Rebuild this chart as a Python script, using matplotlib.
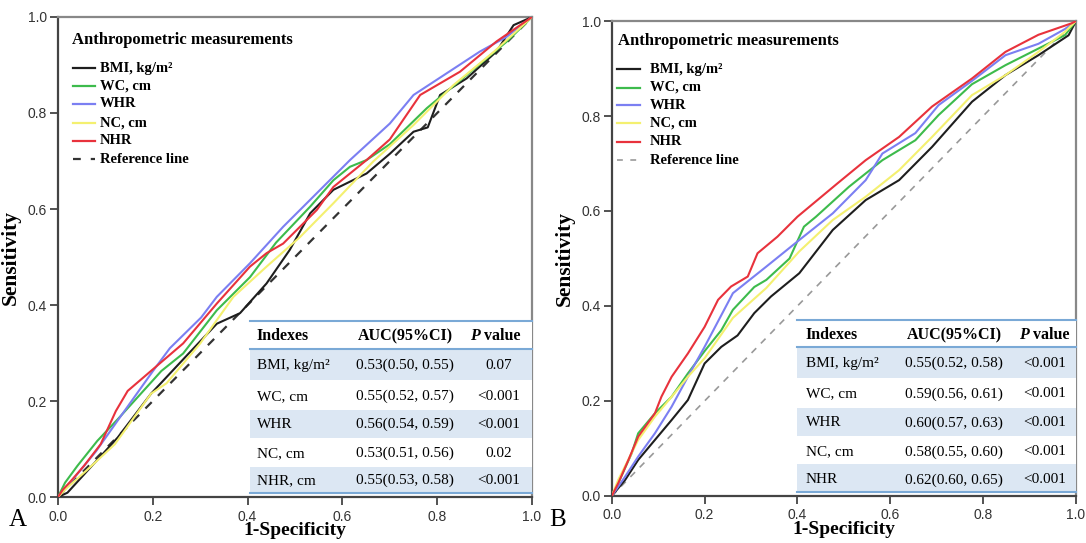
import matplotlib
matplotlib.use("Agg")
import matplotlib.pyplot as plt
from matplotlib.patches import Rectangle

# ---------------- data ----------------
series_names = ["BMI, kg/m²", "WC, cm", "WHR", "NC, cm", "NHR"]
series_colors = ["#1e1e1e", "#3dbb4c", "#7b7ff2", "#f4f070", "#e8323c"]

# Panel A ROC curves (1-specificity, sensitivity)
A_BMI_x = [0, 0.02, 0.055, 0.126, 0.196, 0.27, 0.335, 0.384, 0.44, 0.489, 0.532, 0.581, 0.651, 0.70, 0.75, 0.78, 0.806, 0.862, 0.925, 0.961, 1]
A_BMI_y = [0, 0.009, 0.047, 0.124, 0.215, 0.293, 0.361, 0.383, 0.445, 0.515, 0.591, 0.64, 0.674, 0.715, 0.761, 0.77, 0.8375, 0.872, 0.928, 0.983, 1]
A_WC_x = [0, 0.015, 0.041, 0.083, 0.126, 0.218, 0.264, 0.335, 0.405, 0.46, 0.532, 0.581, 0.616, 0.651, 0.70, 0.778, 0.862, 0.947, 1]
A_WC_y = [0, 0.03, 0.065, 0.117, 0.162, 0.2625, 0.299, 0.389, 0.458, 0.53, 0.605, 0.66, 0.688, 0.702, 0.735, 0.81, 0.879, 0.949, 1]
A_WHR_x = [0, 0.03, 0.08, 0.13, 0.2, 0.236, 0.302, 0.335, 0.405, 0.475, 0.546, 0.616, 0.70, 0.75, 0.89, 0.947, 1]
A_WHR_y = [0, 0.035, 0.095, 0.165, 0.262, 0.31, 0.374, 0.417, 0.487, 0.563, 0.633, 0.702, 0.778, 0.8375, 0.928, 0.959, 1]
A_NC_x = [0, 0.02, 0.06, 0.12, 0.196, 0.229, 0.30, 0.37, 0.44, 0.511, 0.581, 0.665, 0.75, 0.834, 0.92, 1]
A_NC_y = [0, 0.02, 0.055, 0.11, 0.215, 0.237, 0.32, 0.417, 0.48, 0.542, 0.612, 0.699, 0.775, 0.858, 0.928, 1]
A_NHR_x = [0, 0.01, 0.027, 0.055, 0.09, 0.122, 0.147, 0.196, 0.264, 0.335, 0.405, 0.44, 0.475, 0.546, 0.581, 0.651, 0.70, 0.764, 0.848, 0.925, 1]
A_NHR_y = [0, 0.015, 0.033, 0.065, 0.11, 0.179, 0.221, 0.2625, 0.32, 0.403, 0.48, 0.508, 0.528, 0.598, 0.646, 0.702, 0.745, 0.8375, 0.886, 0.949, 1]

# Panel B ROC curves
B_BMI_x = [0, 0.029, 0.057, 0.093, 0.129, 0.164, 0.2, 0.236, 0.271, 0.307, 0.343, 0.404, 0.476, 0.547, 0.619, 0.69, 0.776, 0.848, 0.919, 0.984, 1]
B_BMI_y = [0, 0.034, 0.076, 0.118, 0.16, 0.202, 0.279, 0.314, 0.338, 0.385, 0.42, 0.469, 0.56, 0.623, 0.665, 0.735, 0.83, 0.886, 0.928, 0.97, 1]
B_WC_x = [0, 0.014, 0.043, 0.057, 0.093, 0.129, 0.164, 0.2, 0.236, 0.261, 0.307, 0.333, 0.383, 0.414, 0.44, 0.511, 0.583, 0.654, 0.704, 0.776, 0.848, 0.919, 0.976, 1]
B_WC_y = [0, 0.027, 0.09, 0.132, 0.174, 0.209, 0.258, 0.305, 0.349, 0.392, 0.44, 0.455, 0.50, 0.567, 0.588, 0.651, 0.707, 0.749, 0.802, 0.867, 0.907, 0.942, 0.97, 1]
B_WHR_x = [0, 0.029, 0.057, 0.093, 0.129, 0.164, 0.2, 0.261, 0.333, 0.404, 0.476, 0.547, 0.583, 0.654, 0.704, 0.776, 0.848, 0.919, 0.976, 1]
B_WHR_y = [0, 0.041, 0.083, 0.132, 0.188, 0.251, 0.314, 0.427, 0.483, 0.539, 0.595, 0.665, 0.721, 0.764, 0.823, 0.874, 0.928, 0.952, 0.983, 1]
B_NC_x = [0, 0.014, 0.057, 0.093, 0.129, 0.164, 0.2, 0.261, 0.333, 0.404, 0.476, 0.547, 0.619, 0.69, 0.776, 0.848, 0.919, 0.976, 1]
B_NC_y = [0, 0.034, 0.118, 0.167, 0.209, 0.251, 0.29, 0.375, 0.438, 0.515, 0.581, 0.63, 0.686, 0.756, 0.844, 0.886, 0.935, 0.977, 1]
B_NHR_x = [0, 0.014, 0.036, 0.057, 0.093, 0.107, 0.129, 0.164, 0.2, 0.229, 0.257, 0.293, 0.314, 0.357, 0.4, 0.443, 0.486, 0.547, 0.619, 0.69, 0.776, 0.848, 0.919, 0.99, 1]
B_NHR_y = [0, 0.027, 0.076, 0.125, 0.174, 0.209, 0.251, 0.30, 0.356, 0.413, 0.441, 0.462, 0.511, 0.546, 0.588, 0.623, 0.658, 0.707, 0.756, 0.82, 0.879, 0.935, 0.971, 0.995, 1]

# Tables
table_header = ["Indexes", "AUC(95%CI)", "P value"]
A_indexes = ["BMI, kg/m²", "WC, cm", "WHR", "NC, cm", "NHR, cm"]
A_auc = ["0.53(0.50, 0.55)", "0.55(0.52, 0.57)", "0.56(0.54, 0.59)", "0.53(0.51, 0.56)", "0.55(0.53, 0.58)"]
A_p = ["0.07", "<0.001", "<0.001", "0.02", "<0.001"]
B_indexes = ["BMI, kg/m²", "WC, cm", "WHR", "NC, cm", "NHR"]
B_auc = ["0.55(0.52, 0.58)", "0.59(0.56, 0.61)", "0.60(0.57, 0.63)", "0.58(0.55, 0.60)", "0.62(0.60, 0.65)"]
B_p = ["<0.001", "<0.001", "<0.001", "<0.001", "<0.001"]

legend_title = "Anthropometric measurements"
ref_label = "Reference line"

ticks = [0.0, 0.2, 0.4, 0.6, 0.8, 1.0]
tick_labels = ["0.0", "0.2", "0.4", "0.6", "0.8", "1.0"]

SERIF = "Liberation Serif"
SANS = "Liberation Sans"

fig = plt.figure(figsize=(10.86, 5.43), dpi=100)
axA = fig.add_axes([0.0534, 0.0847, 0.4365, 0.884])
axB = fig.add_axes([0.5633, 0.0866, 0.4275, 0.8747])

shade = "#dce7f3"
rule = "#7aa9d6"


def draw_panel(ax, curves, ref_color, ref_lw, indexes, auc, pv, tb, lg):
    ax.plot([0, 1], [0, 1], linestyle=(0, (4, 4)), color=ref_color, lw=ref_lw, zorder=2)
    for (xs, ys), c in zip(curves, series_colors):
        ax.plot(xs, ys, color=c, lw=1.5, zorder=3)
    ax.set_xlim(0, 1)
    ax.set_ylim(0, 1)
    ax.set_xticks(ticks)
    ax.set_xticklabels(tick_labels)
    ax.set_yticks(ticks)
    ax.set_yticklabels(tick_labels)
    ax.tick_params(direction="out", length=6, width=1.3, color="#444444",
                   labelsize=10, labelcolor="#333333")
    ax.tick_params(axis="x", pad=3)
    ax.tick_params(axis="y", pad=2)
    for lab in ax.get_xticklabels() + ax.get_yticklabels():
        lab.set_fontfamily(SANS)
    for s in ["left", "bottom"]:
        ax.spines[s].set_color("#444444")
        ax.spines[s].set_linewidth(1.6)
    for s in ["top", "right"]:
        ax.spines[s].set_color("#888888")
        ax.spines[s].set_linewidth(1.6)
    ax.set_xlabel("1-Specificity", fontfamily=SERIF, fontweight="bold", fontsize=14, labelpad=-1)
    ax.set_ylabel("Sensitivity", fontfamily=SERIF, fontweight="bold", fontsize=15.5, labelpad=5)

    # manual legend
    tx, ty, lx0, lx1, txt_x, ys = lg
    ax.text(tx, ty, legend_title, transform=ax.transAxes, fontfamily=SERIF, fontweight="bold",
            fontsize=12, ha="left", va="center", zorder=5)
    labels = series_names + [ref_label]
    for i, (lab, yy) in enumerate(zip(labels, ys)):
        if i < 5:
            ax.plot([lx0, lx1], [yy, yy], transform=ax.transAxes, color=series_colors[i], lw=1.6,
                    clip_on=False, zorder=5)
        else:
            ax.plot([lx0, lx1], [yy, yy], transform=ax.transAxes, color=ref_color, lw=ref_lw,
                    linestyle=(0, (3.5, 4.5)), clip_on=False, zorder=5)
        ax.text(txt_x, yy, lab, transform=ax.transAxes, fontfamily=SERIF, fontweight="bold",
                fontsize=10.5, ha="left", va="center", zorder=5)

    # table
    x0, x1, ytop, yhead, row_edges, col_idx, col_auc, col_p, p_split, yc = tb
    ax.add_patch(Rectangle((x0, row_edges[-1]), x1 - x0, ytop - row_edges[-1], facecolor="white",
                           edgecolor="none", zorder=6))
    for i in range(5):
        if i % 2 == 0:
            ax.add_patch(Rectangle((x0, row_edges[i + 1]), x1 - x0, row_edges[i] - row_edges[i + 1],
                                   facecolor=shade, edgecolor="none", zorder=6))
    for yy in [ytop, yhead, row_edges[-1]]:
        ax.plot([x0, x1], [yy, yy], color=rule, lw=1.5, zorder=7, clip_on=False)
    fs = 11
    hfs = 11.5
    ax.text(col_idx, yc[0], table_header[0], fontfamily=SERIF, fontweight="bold", fontsize=hfs,
            ha="left", va="center", zorder=8)
    ax.text(col_auc, yc[0], table_header[1], fontfamily=SERIF, fontweight="bold", fontsize=hfs,
            ha="center", va="center", zorder=8)
    ax.text(p_split, yc[0], table_header[2].split(" ")[0], fontfamily=SERIF, fontweight="bold",
            fontstyle="italic", fontsize=hfs, ha="right", va="center", zorder=8)
    ax.text(p_split, yc[0], " " + table_header[2].split(" ")[1], fontfamily=SERIF, fontweight="bold",
            fontsize=hfs, ha="left", va="center", zorder=8)
    for i in range(5):
        ax.text(col_idx, yc[i + 1], indexes[i], fontfamily=SERIF, fontsize=fs,
                ha="left", va="center", zorder=8)
        ax.text(col_auc, yc[i + 1], auc[i], fontfamily=SERIF, fontsize=fs,
                ha="center", va="center", zorder=8)
        ax.text(col_p, yc[i + 1], pv[i], fontfamily=SERIF, fontsize=fs,
                ha="center", va="center", zorder=8)


curvesA = [(A_BMI_x, A_BMI_y), (A_WC_x, A_WC_y), (A_WHR_x, A_WHR_y), (A_NC_x, A_NC_y), (A_NHR_x, A_NHR_y)]
curvesB = [(B_BMI_x, B_BMI_y), (B_WC_x, B_WC_y), (B_WHR_x, B_WHR_y), (B_NC_x, B_NC_y), (B_NHR_x, B_NHR_y)]

tbA = (0.404, 1.0, 0.367, 0.308, [0.308, 0.244, 0.181, 0.123, 0.0625, 0.009],
       0.419, 0.732, 0.929, 0.890, [0.335, 0.275, 0.21, 0.152, 0.091, 0.034])
tbB = (0.40, 1.0, 0.371, 0.313, [0.313, 0.248, 0.185, 0.126, 0.067, 0.009],
       0.418, 0.737, 0.933, 0.898, [0.339, 0.279, 0.215, 0.154, 0.093, 0.034])

lgA = (0.029, 0.952, 0.031, 0.078, 0.088, [0.893, 0.856, 0.819, 0.780, 0.742, 0.704])
lgB = (0.0135, 0.958, 0.0115, 0.061, 0.082, [0.898, 0.860, 0.823, 0.785, 0.746, 0.707])

draw_panel(axA, curvesA, "#333333", 1.6, A_indexes, A_auc, A_p, tbA, lgA)
draw_panel(axB, curvesB, "#999999", 1.2, B_indexes, B_auc, B_p, tbB, lgB)

fig.text(0.008, 0.022, "A", fontfamily=SERIF, fontsize=18, ha="left", va="bottom")
fig.text(0.506, 0.022, "B", fontfamily=SERIF, fontsize=18, ha="left", va="bottom")

fig.savefig("out.png", dpi=100)
